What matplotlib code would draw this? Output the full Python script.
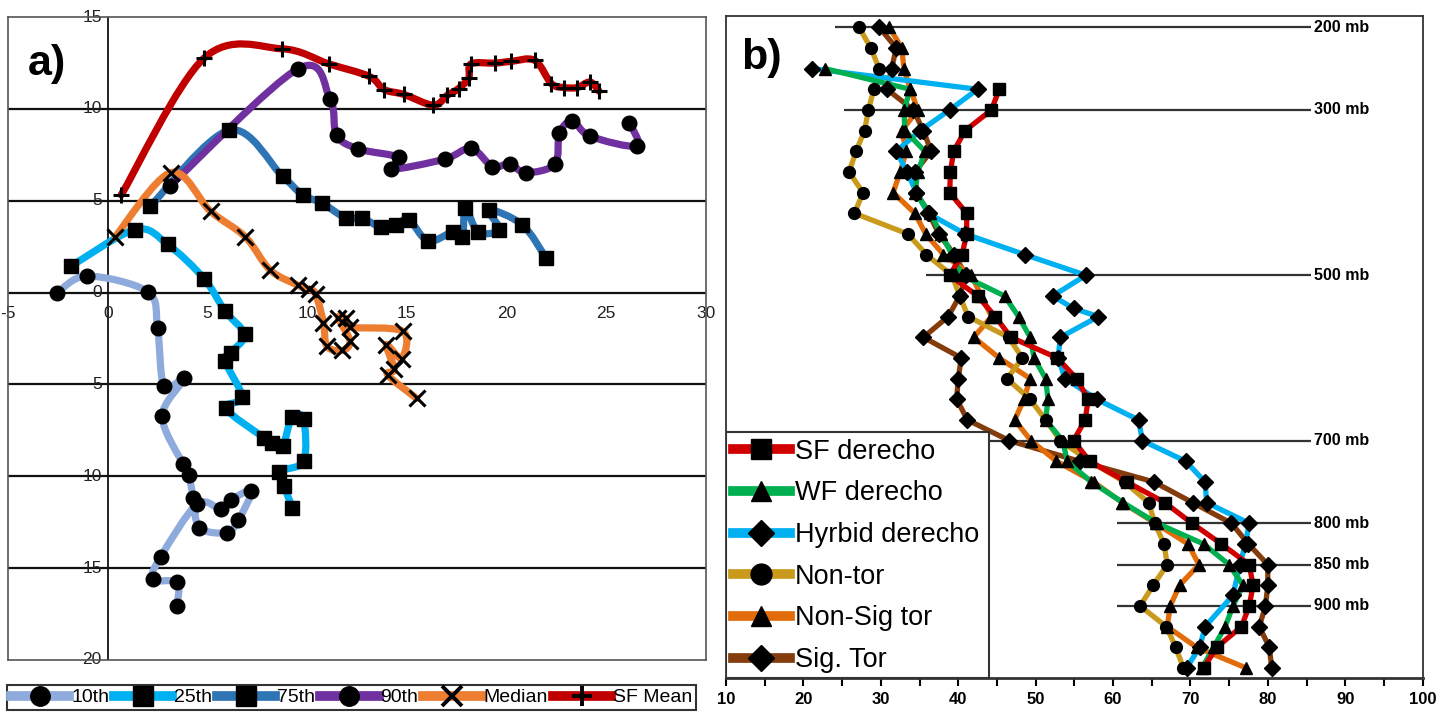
import numpy as np
import matplotlib
matplotlib.use("Agg")
import matplotlib.pyplot as plt
from matplotlib.path import Path
from matplotlib.patches import PathPatch, Rectangle
from matplotlib.lines import Line2D

plt.rcParams['font.family'] = ['Liberation Sans', 'DejaVu Sans']

# ---------------- Panel a data (hodographs, u/v) ----------------
p10_u = [-2.52, -1.03, 2.01, 2.50, 2.82, 3.83, 2.73, 3.78, 4.06, 4.29, 4.60, 5.97, 6.55, 7.20, 6.16, 5.69, 4.48, 2.66, 2.26, 3.48, 3.48]
p10_v = [0.00, 0.90, 0.04, -1.92, -5.09, -4.67, -6.72, -9.35, -9.93, -11.16, -12.79, -13.06, -12.39, -10.80, -11.30, -11.79, -11.52, -14.38, -15.60, -15.78, -17.05]

p25_u = [-1.84, 1.38, 3.01, 4.83, 5.88, 6.86, 6.16, 5.88, 6.74, 5.92, 7.84, 8.26, 8.77, 9.24, 9.82, 9.82, 8.61, 8.84, 9.26]
p25_v = [1.44, 3.43, 2.62, 0.76, -1.01, -2.28, -3.28, -3.73, -5.69, -6.30, -7.90, -8.17, -8.35, -6.78, -6.90, -9.17, -9.75, -10.53, -11.70]

p75_u = [2.12, 6.09, 8.77, 9.77, 10.75, 11.94, 12.74, 13.70, 14.44, 15.09, 16.07, 17.31, 17.78, 17.94, 18.57, 19.64, 19.10, 20.78, 21.97]
p75_v = [4.69, 8.84, 6.32, 5.32, 4.87, 4.06, 4.06, 3.56, 3.66, 3.97, 2.80, 3.30, 3.03, 4.60, 3.30, 3.43, 4.51, 3.70, 1.90]

p90_u = [3.13, 9.54, 11.15, 11.48, 12.57, 14.60, 14.21, 16.89, 18.22, 19.29, 20.15, 20.97, 22.42, 22.65, 23.30, 24.17, 26.52, 26.15]
p90_v = [5.81, 12.18, 10.52, 8.57, 7.82, 7.36, 6.71, 7.26, 7.85, 6.86, 7.00, 6.53, 6.99, 8.66, 9.35, 8.52, 7.98, 9.24]

med_u = [0.37, 3.17, 5.16, 6.90, 8.14, 9.54, 10.08, 10.43, 10.82, 10.99, 11.76, 12.15, 11.57, 11.94, 12.15, 14.79, 14.74, 13.97, 14.37, 14.04, 15.49]
med_v = [3.03, 6.53, 4.42, 3.03, 1.23, 0.40, 0.18, -0.09, -1.65, -2.92, -3.15, -2.64, -1.38, -1.41, -1.88, -2.10, -3.59, -2.83, -4.18, -4.49, -5.76]

sfm_u = [0.68, 4.83, 8.72, 11.08, 13.11, 13.86, 14.84, 16.33, 17.03, 17.59, 18.10, 18.22, 19.41, 20.20, 21.41, 22.25, 22.90, 23.54, 24.19, 24.63]
sfm_v = [5.32, 12.76, 13.27, 12.45, 11.77, 11.05, 10.79, 10.20, 10.74, 11.10, 11.68, 12.45, 12.49, 12.58, 12.64, 11.37, 11.16, 11.16, 11.46, 10.97]

a_names = ["10th", "25th", "75th", "90th", "Median", "SF Mean"]
a_colors = ["#8FAADC", "#00B0F0", "#2E75B6", "#7030A0", "#ED7D31", "#C00000"]
a_markers = ["o", "s", "s", "o", "x", "+"]
a_xticks = [-5, 0, 5, 10, 15, 20, 25, 30]
a_xticklabels = ["-5", "0", "5", "10", "15", "20", "25", "30"]
a_yticks = [15, 10, 5, 0, -5, -10, -15, -20]
a_yticklabels = ["15", "10", "5", "0", "5", "10", "15", "20"]

# ---------------- Panel b data (value vs pressure, mb) ----------------
p_full = list(range(200, 1000, 25))
p_wf = list(range(250, 1000, 25))
p_sf = list(range(275, 1000, 25))
p_hy = [250, 275, 300, 325, 350, 375, 400, 425, 450, 475, 500, 525, 540, 550, 575, 600, 625, 650, 675, 700, 725, 750, 775, 800, 825, 850, 887, 925, 950, 975]

sf_derecho = [45.3, 44.3, 40.9, 39.4, 39.0, 38.9, 41.1, 41.1, 40.5, 38.9, 42.5, 44.8, 46.8, 52.8, 55.3, 56.8, 56.4, 54.9, 57.0, 61.8, 66.7, 70.2, 74.0, 77.6, 78.1, 77.6, 76.6, 73.4, 71.7]
wf_derecho = [22.8, 33.8, 33.0, 33.1, 35.7, 34.8, 34.4, 36.4, 37.8, 39.2, 40.5, 46.0, 47.8, 49.3, 49.8, 51.3, 51.6, 51.3, 53.5, 54.1, 57.2, 61.3, 65.7, 71.7, 75.0, 76.8, 75.5, 74.5, 73.0, 71.5]
hybrid_derecho = [21.1, 42.5, 38.9, 35.1, 32.0, 33.4, 34.6, 36.1, 40.9, 48.6, 56.5, 52.2, 54.9, 58.1, 53.2, 52.9, 53.8, 57.9, 63.3, 63.8, 69.4, 71.9, 72.1, 77.6, 77.1, 76.4, 75.5, 71.9, 71.2, 69.5]
non_tor = [27.2, 28.7, 29.8, 29.1, 28.4, 27.9, 26.8, 25.9, 27.7, 26.6, 33.5, 35.9, 39.2, 40.2, 41.3, 46.5, 48.3, 46.3, 49.3, 51.3, 53.2, 57.0, 61.5, 64.6, 65.4, 66.6, 67.0, 65.2, 63.5, 66.9, 68.1, 69.1]
non_sig_tor = [31.1, 32.7, 33.0, 33.8, 34.8, 32.7, 33.3, 32.5, 31.6, 34.4, 35.8, 38.1, 41.7, 43.0, 44.3, 42.0, 45.3, 49.3, 48.5, 47.3, 49.4, 52.7, 57.5, 61.2, 65.5, 69.7, 71.1, 68.6, 67.4, 67.0, 70.8, 77.2]
sig_tor = [29.8, 32.0, 31.4, 30.8, 34.2, 35.5, 36.5, 34.4, 34.6, 36.2, 37.5, 39.5, 41.0, 40.2, 38.7, 35.5, 40.4, 40.0, 39.8, 41.2, 46.6, 55.7, 65.3, 70.3, 75.3, 77.5, 80.0, 80.0, 79.7, 78.9, 80.2, 80.5]

b_names = ["SF derecho", "WF derecho", "Hyrbid derecho", "Non-tor", "Non-Sig tor", "Sig. Tor"]
b_colors = ["#D00000", "#00B050", "#00B0F0", "#C99A1C", "#E36C0A", "#843C0C"]
b_markers = ["s", "^", "D", "o", "^", "D"]
b_levels = [200, 300, 500, 700, 800, 850, 900]
b_level_start = [24.1, 25.2, 35.8, 10.0, 60.5, 60.5, 60.5]

# ---------------- Figure ----------------
W, H = 1451, 719
fig = plt.figure(figsize=(W / 100, H / 100), dpi=100)


def smooth_path(xs, ys):
    pts = np.column_stack([xs, ys]).astype(float)
    n = len(pts)
    verts = [pts[0]]
    codes = [Path.MOVETO]
    for i in range(n - 1):
        p0 = pts[i - 1] if i > 0 else pts[i]
        p1 = pts[i]
        p2 = pts[i + 1]
        p3 = pts[i + 2] if i + 2 < n else pts[i + 1]
        c1 = p1 + (p2 - p0) / 6.0
        c2 = p2 - (p3 - p1) / 6.0
        verts += [c1, c2, p2]
        codes += [Path.CURVE4] * 3
    return Path(verts, codes)


# ---- Panel a ----
axa = fig.add_axes([8 / W, 1 - 660 / H, 698 / W, 643 / H])
axa.set_xlim(-5, 30)
axa.set_ylim(-20, 15)
axa.set_xticks([])
axa.set_yticks([])
for s in axa.spines.values():
    s.set_color("#555555")
    s.set_linewidth(1.2)
for yv in [-15, -10, -5, 5, 10]:
    axa.axhline(yv, color="#111111", lw=1.6, zorder=1)
axa.axhline(0, color="#111111", lw=1.6, zorder=1)
axa.axvline(0, color="#111111", lw=1.3, zorder=1)

for xv, lab in zip(a_xticks, a_xticklabels):
    axa.text(xv, -1.15, lab, ha="center", va="center", fontsize=12.5, color="#222222", zorder=2, clip_on=False)
for yv, lab in zip(a_yticks, a_yticklabels):
    axa.text(-0.3, yv, lab, ha="right", va="center", fontsize=12.5, color="#222222", zorder=2)

a_series = [(p10_u, p10_v), (p25_u, p25_v), (p75_u, p75_v), (p90_u, p90_v), (med_u, med_v), (sfm_u, sfm_v)]
for (u, v), c, m in zip(a_series, a_colors, a_markers):
    patch = PathPatch(smooth_path(u, v), facecolor="none", edgecolor=c, lw=5.2,
                      capstyle="round", joinstyle="round", zorder=3)
    axa.add_patch(patch)
for (u, v), c, m in zip(a_series, a_colors, a_markers):
    if m in ("x", "+"):
        axa.plot(u, v, ls="none", marker=m, ms=11, mew=2.2, color="black", zorder=5)
    else:
        axa.plot(u, v, ls="none", marker=m, ms=10.5 if m == "o" else 9.5, color="black", zorder=5)

fig.text(28 / W, 1 - 64 / H, "a)", fontsize=31, fontweight="bold", ha="left", va="center")

a_handles = []
for c, m in zip(a_colors, a_markers):
    if m in ("x", "+"):
        a_handles.append(Line2D([], [], color=c, lw=7, marker=m, ms=14, mew=2.8, mec="black", mfc="black"))
    else:
        a_handles.append(Line2D([], [], color=c, lw=7, marker=m, ms=14, mec="black", mfc="black"))
lega = fig.legend(a_handles, a_names, loc="center", bbox_to_anchor=(351.5 / W, 1 - 697.5 / H),
                  ncol=6, fontsize=14, frameon=True, fancybox=False, edgecolor="black",
                  handlelength=3.0, handletextpad=0.1, columnspacing=0.25, borderpad=0.2,
                  borderaxespad=0)
lega.get_frame().set_linewidth(1.5)

# ---- Panel b ----
axb = fig.add_axes([726 / W, 1 - 678.3 / H, (1422.6 - 726) / W, 662.6 / H])
axb.set_xlim(10, 100)
axb.set_ylim(987.5, 186)
axb.set_yticks([])
axb.set_xticks(np.arange(10, 101, 10))
axb.set_xticks(np.arange(15, 100, 10), minor=True)
axb.tick_params(axis="x", which="both", direction="out", length=6, width=1.5, colors="black", pad=4)
for lab in axb.get_xticklabels():
    lab.set_fontweight("bold")
    lab.set_fontsize(12)
for s in axb.spines.values():
    s.set_color("#333333")
    s.set_linewidth(1.3)
axb.spines["bottom"].set_linewidth(2.0)

for lv, xs in zip(b_levels, b_level_start):
    axb.hlines(lv, xs, 85.6, color="#333333", lw=1.6, zorder=1)
    axb.text(86.0, lv, f"{lv} mb", ha="left", va="center", fontsize=11.5, fontweight="bold",
             family=["Liberation Sans Narrow", "Liberation Sans", "DejaVu Sans"])

b_series = [(sf_derecho, p_sf), (wf_derecho, p_wf), (hybrid_derecho, p_hy), (non_tor, p_full),
            (non_sig_tor, p_full), (sig_tor, p_full)]
order = [5, 4, 3, 2, 1, 0]
for k in order:
    vals, ps = b_series[k]
    axb.plot(vals, ps, color=b_colors[k], lw=3.8, solid_joinstyle="round", solid_capstyle="round", zorder=3 + (5 - k) * 0.1)
for k in order:
    vals, ps = b_series[k]
    axb.plot(vals, ps, ls="none", marker=b_markers[k], ms=8.5 if b_markers[k] != "D" else 8,
             color="black", zorder=6)

# legend box of panel b
axb.add_patch(Rectangle((0, 0), 0.378, 0.372, transform=axb.transAxes, facecolor="white",
                        edgecolor="#333333", lw=1.5, zorder=7))
b_handles = [Line2D([], [], color=c, lw=7, marker=m, ms=15 if m != "D" else 13, mec="black", mfc="black")
             for c, m in zip(b_colors, b_markers)]
legb = axb.legend(b_handles, b_names, loc="upper left", bbox_to_anchor=(0.0, 0.372), borderaxespad=0,
                  frameon=False, fontsize=19.5, handlelength=2.1, handletextpad=0.2,
                  labelspacing=0.58, borderpad=0.25)
legb.set_zorder(8)

fig.text(741 / W, 1 - 58 / H, "b)", fontsize=31, fontweight="bold", ha="left", va="center")

fig.savefig("out.png", dpi=100)
